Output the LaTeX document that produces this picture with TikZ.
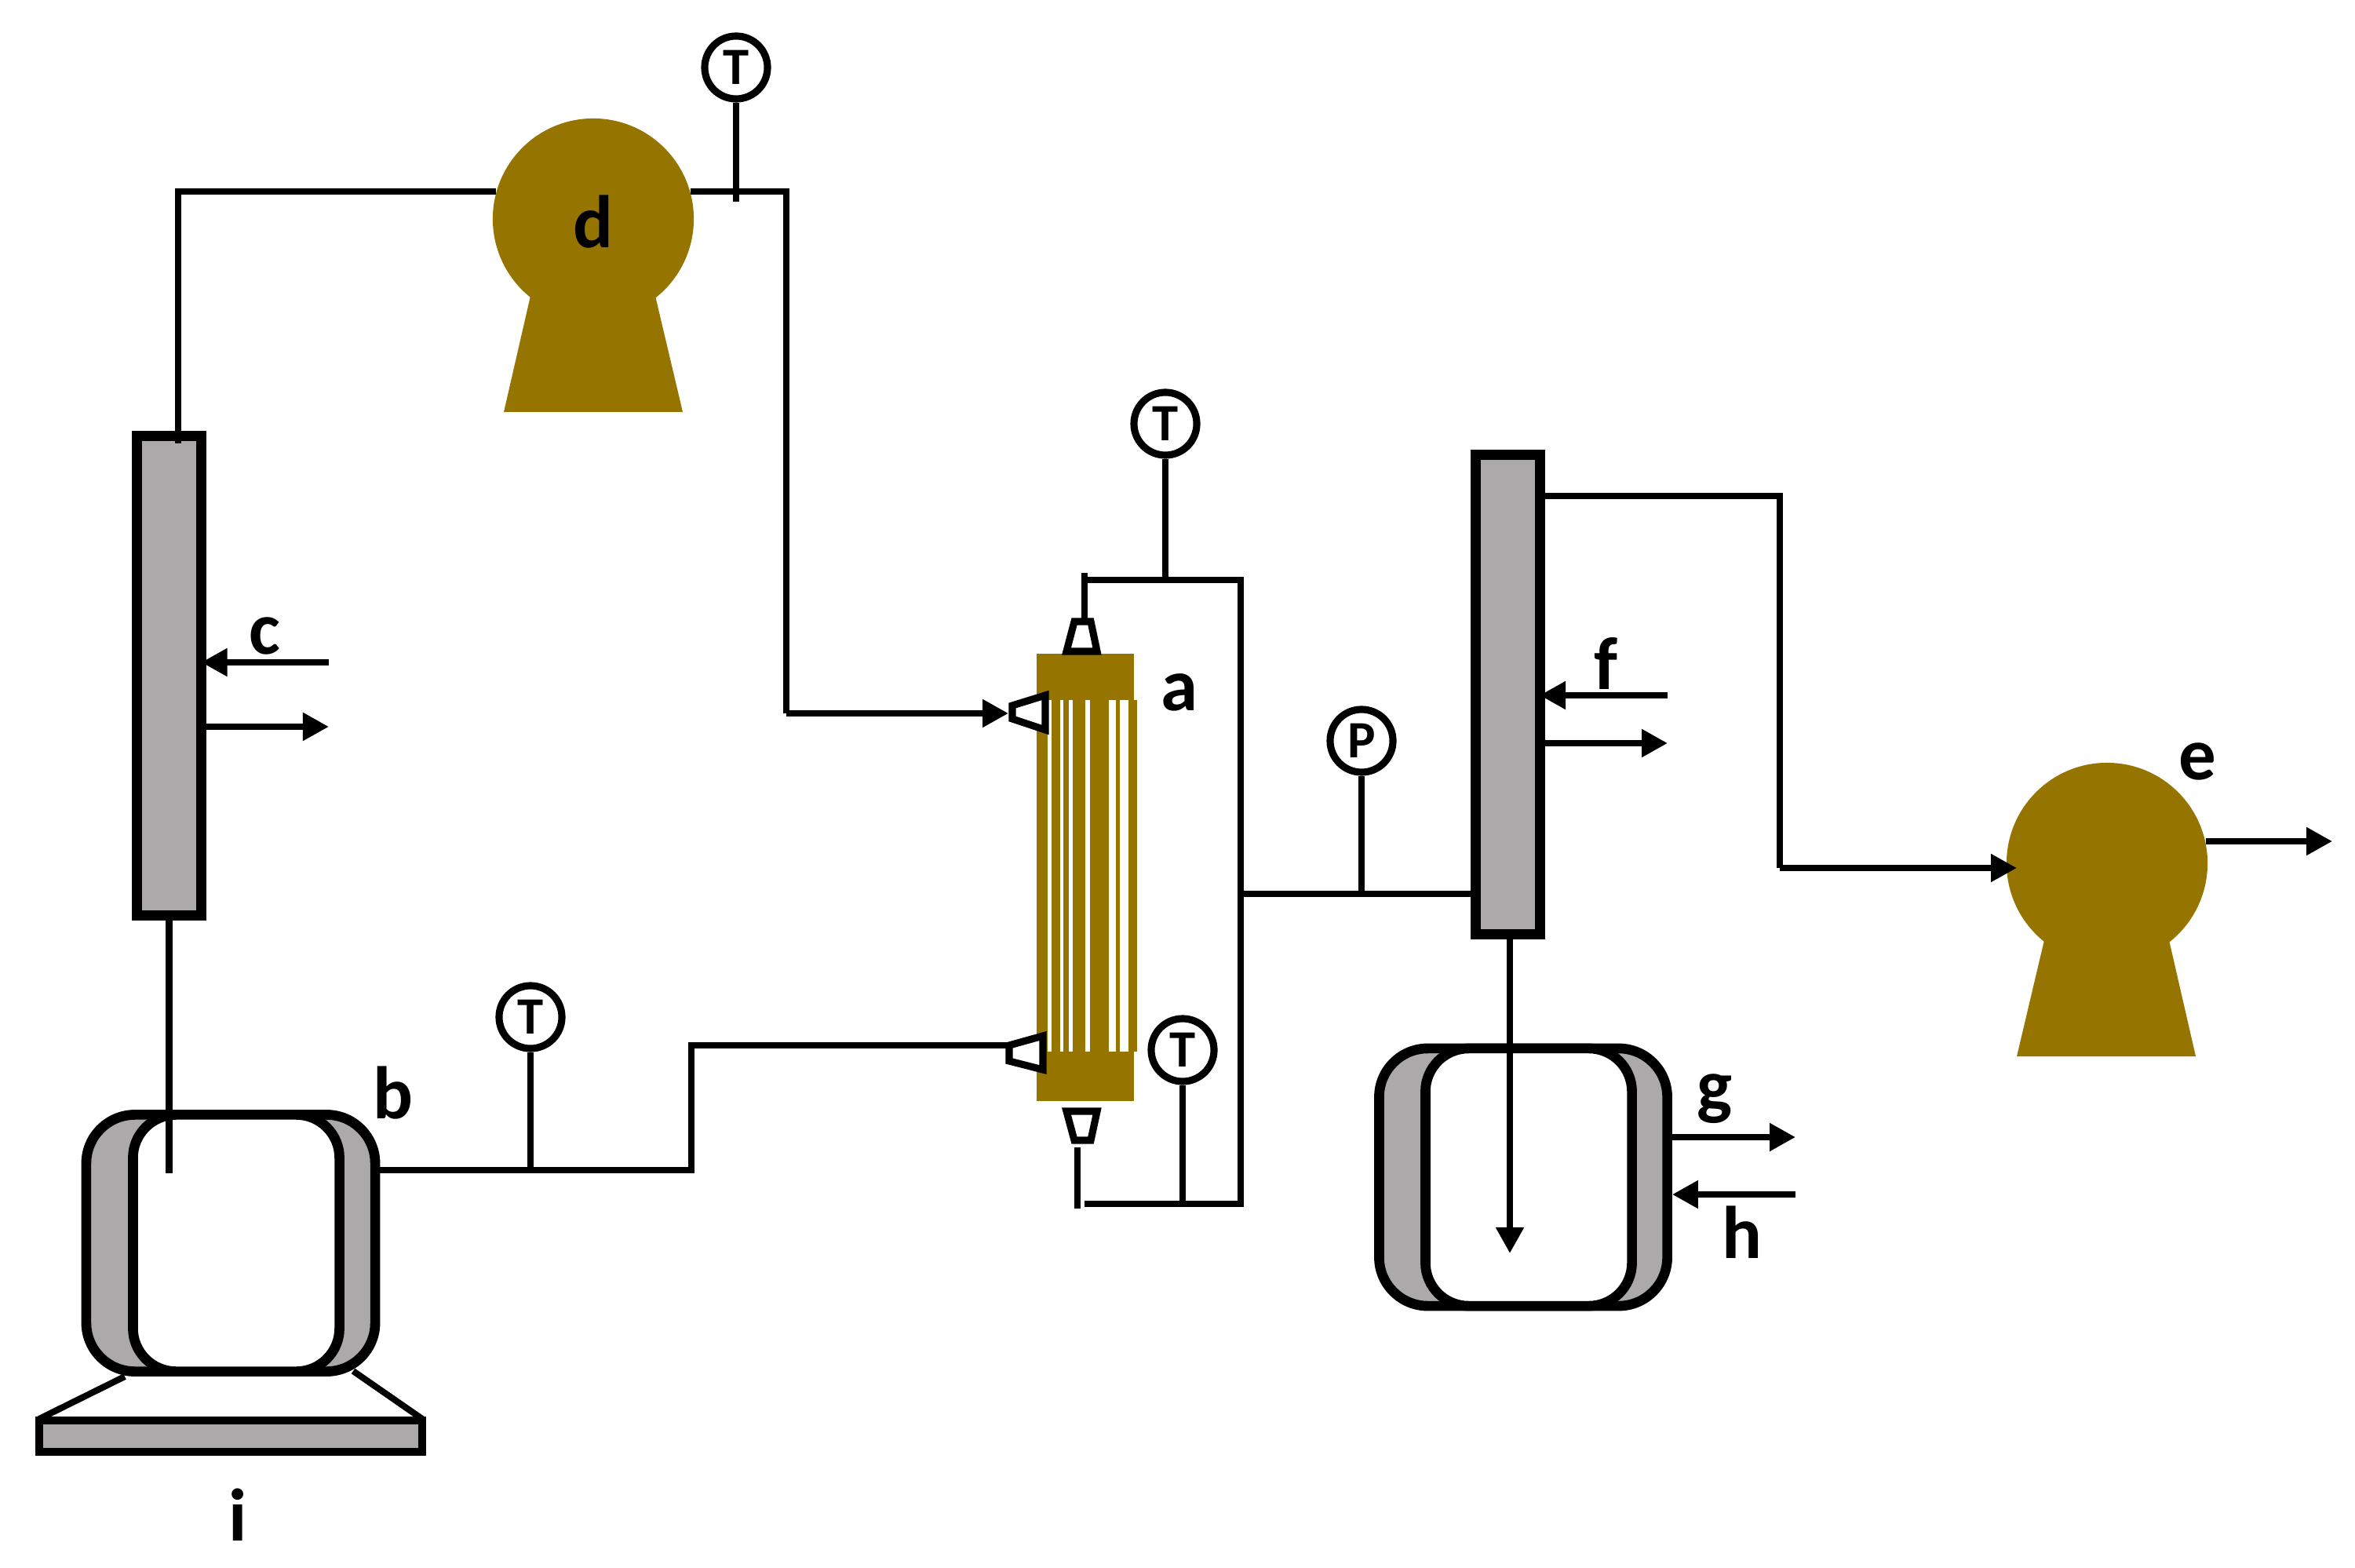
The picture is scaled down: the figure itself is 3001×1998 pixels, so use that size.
\documentclass[tikz,border=0pt]{standalone}
\usepackage{fontspec}
\setmainfont{Carlito}
\usepackage{tikz}
\usetikzlibrary{arrows.meta}
\definecolor{pumpbrown}{HTML}{967400}
\definecolor{jacketgray}{HTML}{ABA9A9}
\tikzset{
  pipe/.style={line width=2.3pt},
  flow/.style={line width=2.3pt,-{Triangle[length=.33cm,width=.34cm]}},
  lab/.style={inner sep=0pt,font=\fontsize{27}{27}\selectfont\bfseries},
  gauge/.style={draw,circle,fill=white,line width=2.6pt,minimum size=.8cm,inner sep=0pt,font=\fontsize{19}{19}\selectfont\bfseries},
  pump/.style={circle,fill=pumpbrown,minimum size=2.56cm,inner sep=0pt},
  cond/.style={draw,fill=jacketgray,line width=3.7pt,minimum width=.82cm,minimum height=6.1cm,inner sep=0pt,outer sep=0pt},
  jacket/.style={draw,fill=jacketgray,line width=3.6pt,rounded corners=.62cm,inner sep=0pt},
  vessel/.style={draw,fill=white,line width=3.6pt,rounded corners=.55cm,inner sep=0pt},
  nozzle/.style={draw,fill=white,line width=2.6pt,line join=miter}
}
\begin{document}
\begin{tikzpicture}[x=.01cm,y=-.01cm]
\useasboundingbox (0,0) rectangle (3001,1998);
% pumps
\fill[pumpbrown](676,377)--(835,377)--(870,525)--(642,525)--cycle;
\fill[pumpbrown](2605,1198)--(2764,1198)--(2798,1346)--(2570,1346)--cycle;
\node[pump] (d) at (756,279){};
\node[pump] (e) at (2685,1100){};
% reactor
\node[fill=pumpbrown,minimum width=1.24cm,minimum height=5.7cm,inner sep=0pt] (a) at (1383,1118){};
\fill[pumpbrown](1321,892)rectangle(1449,1340);
\foreach \xa/\xb in {1335/1340,1351/1355,1362/1367,1383/1389,1413/1422,1427/1438}
  \fill[white](\xa,892)rectangle(\xb,1340);
\draw[nozzle](1359,830)--(1369,792)--(1390,792)--(1398,830)--cycle;
\draw[nozzle](1332,886)--(1290,899)--(1290,916)--(1332,930)--cycle;
\draw[nozzle](1329,1320)--(1286,1332)--(1286,1352)--(1329,1363)--cycle;
\draw[nozzle](1359,1416)--(1369,1453)--(1390,1453)--(1398,1416)--cycle;
% condensers
\node[cond] (c1) at (215.5,861){};
\node[cond] (c2) at (1921,885){};
% flasks
\node[jacket,minimum width=3.68cm,minimum height=3.27cm] (b) at (294,1584){};
\node[vessel,minimum width=2.63cm,minimum height=3.27cm] (b2) at (301,1584){};
\node[jacket,minimum width=3.67cm,minimum height=3.28cm] (g1) at (1941,1500){};
\node[vessel,minimum width=2.63cm,minimum height=3.28cm] (g2) at (1948,1500){};
% heater
\draw[line width=2.6pt,fill=jacketgray](50,1810)rectangle(538,1850);
\draw[line width=2.3pt](159,1754)--(50,1808);
\draw[line width=2.3pt](450,1747)--(538,1808);
% gauges
\node[gauge] (T1) at (938,86){T};
\node[gauge] (T2) at (1485,540){T};
\node[gauge] (T3) at (676,1296){T};
\node[gauge] (T4) at (1507,1338){T};
\node[gauge] (P1) at (1735,944){P};
% pipe points
\coordinate (10) at (227,244);
\coordinate (11) at (227,565);
\coordinate (12) at (1002,244);
\coordinate (13) at (1002,909);
\coordinate (14) at (1285,909);
\coordinate (15) at (215.5,1495);
\coordinate (16) at (881,1491);
\coordinate (17) at (881,1332);
\coordinate (18) at (1286,1332);
\coordinate (19) at (1382,789);
\coordinate (20) at (1382,730);
\coordinate (21) at (1581,739);
\coordinate (22) at (1581,1534);
\coordinate (23) at (1382,1534);
\coordinate (24) at (1373,1462);
\coordinate (25) at (1373,1540);
\coordinate (26) at (1581,1139);
\coordinate (27) at (2268,632);
\coordinate (28) at (2268,1106);
\coordinate (29) at (2570,1106);
\coordinate (30) at (1924,1597);
\coordinate (31) at (2972,1072);
% main lines
\draw[pipe](d.164 |- 10)--(10)--(11);
\draw[pipe](d.16 |- 12)--(12)--(13);
\draw[flow](13)--(14);
\draw[pipe](c1.south)--(15);
\draw[pipe](b.east |- 16)--(16)--(17)--(18);
\draw[pipe](19)--(20);
\draw[pipe](1382,739)--(21)--(22)--(23);
\draw[pipe](24)--(25);
\draw[pipe](26)--(c2.west |- 26);
\draw[pipe](c2.east |- 27)--(27)--(28);
\draw[flow](28)--(29);
\draw[flow](1924,1190)--(30);
\draw[flow](e.13 |- 31)--(31);
% gauge stems
\draw[pipe](T1)--(938,257);
\draw[pipe](T2)--(1485,739);
\draw[pipe](T3)--(676,1491);
\draw[pipe](T4)--(1507,1534);
\draw[pipe](P1)--(1735,1139);
% cooling lines
\draw[flow](419,844)--(c1.east |- 0,844);
\draw[flow](c1.east |- 0,926)--(419,926);
\draw[flow](2125,886)--(c2.east |- 0,886);
\draw[flow](c2.east |- 0,947)--(2125,947);
\draw[flow](g1.east |- 0,1449)--(2288,1449);
\draw[flow](2288,1522)--(g1.east |- 0,1522);
% labels
\node[lab] (la) at (1503,882){a};
\node[lab] (lb) at (501,1393){b};
\node[lab] (lc) at (337,810){c};
\node[lab] (ld) at (756,283){d};
\node[lab] (le) at (2800,970){e};
\node[lab] (lf) at (2046,846){f};
\node[lab] (lg) at (2185,1400){g};
\node[lab] (lh) at (2220,1570){h};
\node[lab] (li) at (303,1930){i};
\end{tikzpicture}
\end{document}
